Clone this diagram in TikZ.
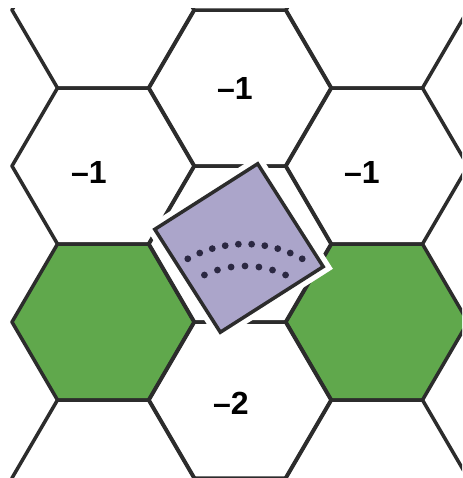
\documentclass[tikz,border=0pt]{standalone}
\usepackage{fontspec}
\setmainfont{Liberation Sans}
\usepackage{tikz}
\usetikzlibrary{positioning}
\definecolor{hexgreen}{HTML}{60A84C}
\definecolor{tilelilac}{HTML}{ABA5CA}
\definecolor{gridgray}{HTML}{2C2C2C}
\definecolor{dotink}{HTML}{2B2842}

\begin{document}
\begin{tikzpicture}[x=0.5pt,y=-0.5pt,font=\fontsize{16}{19}\selectfont\bfseries,
    hexline/.style={draw=gridgray,line width=1.75pt,line join=round},
    tile/.style={draw=gridgray,fill=tilelilac,line width=1.75pt,minimum size=61pt,inner sep=0pt,rotate=32.5},
    halo/.style={tile,draw=white,fill=white,line width=7pt},
    pip/.style={fill=dotink}]
    \def\hw{91}\def\hs{45.5}\def\hh{78}
    \useasboundingbox[fill=white] (0,0) rectangle (462,478);
    \begin{scope}
    \clip (10,8.5) rectangle (462,478);
    % green cells
    \foreach \cx/\cy in {103/322,377/322}
      \fill[hexgreen] (\cx-\hw,\cy) -- (\cx-\hs,\cy-\hh) -- (\cx+\hs,\cy-\hh) -- (\cx+\hw,\cy) -- (\cx+\hs,\cy+\hh) -- (\cx-\hs,\cy+\hh) -- cycle;
    % grid
    \foreach \cx/\cy in {103/10,103/166,103/322,103/478,240/88,240/244,240/400,377/10,377/166,377/322,377/478}
      \draw[hexline] (\cx-\hw,\cy) -- (\cx-\hs,\cy-\hh) -- (\cx+\hs,\cy-\hh) -- (\cx+\hw,\cy) -- (\cx+\hs,\cy+\hh) -- (\cx-\hs,\cy+\hh) -- cycle;
    \end{scope}
    % the tile on the middle cell
    \node[halo] (tilehalo) at (239,248) {};
    \node[tile] (tile) at (239,248) {};
    \foreach \a in {0,...,9}
      \fill[pip] ({245+118*cos(119-\a*58/9)},{362-118*sin(119-\a*58/9)}) circle (1.7pt);
    \foreach \a in {0,...,6}
      \fill[pip] ({245+96*cos(115-\a*50/6)},{362-96*sin(115-\a*50/6)}) circle (1.7pt);
    % cell values
    \node (cellN) at (235,88) {–1};
    \node (cellW) at (89,172) {–1};
    \node (cellE) at (362,172) {–1};
    \node (cellS) at (231,403) {–2};
\end{tikzpicture}
\end{document}
